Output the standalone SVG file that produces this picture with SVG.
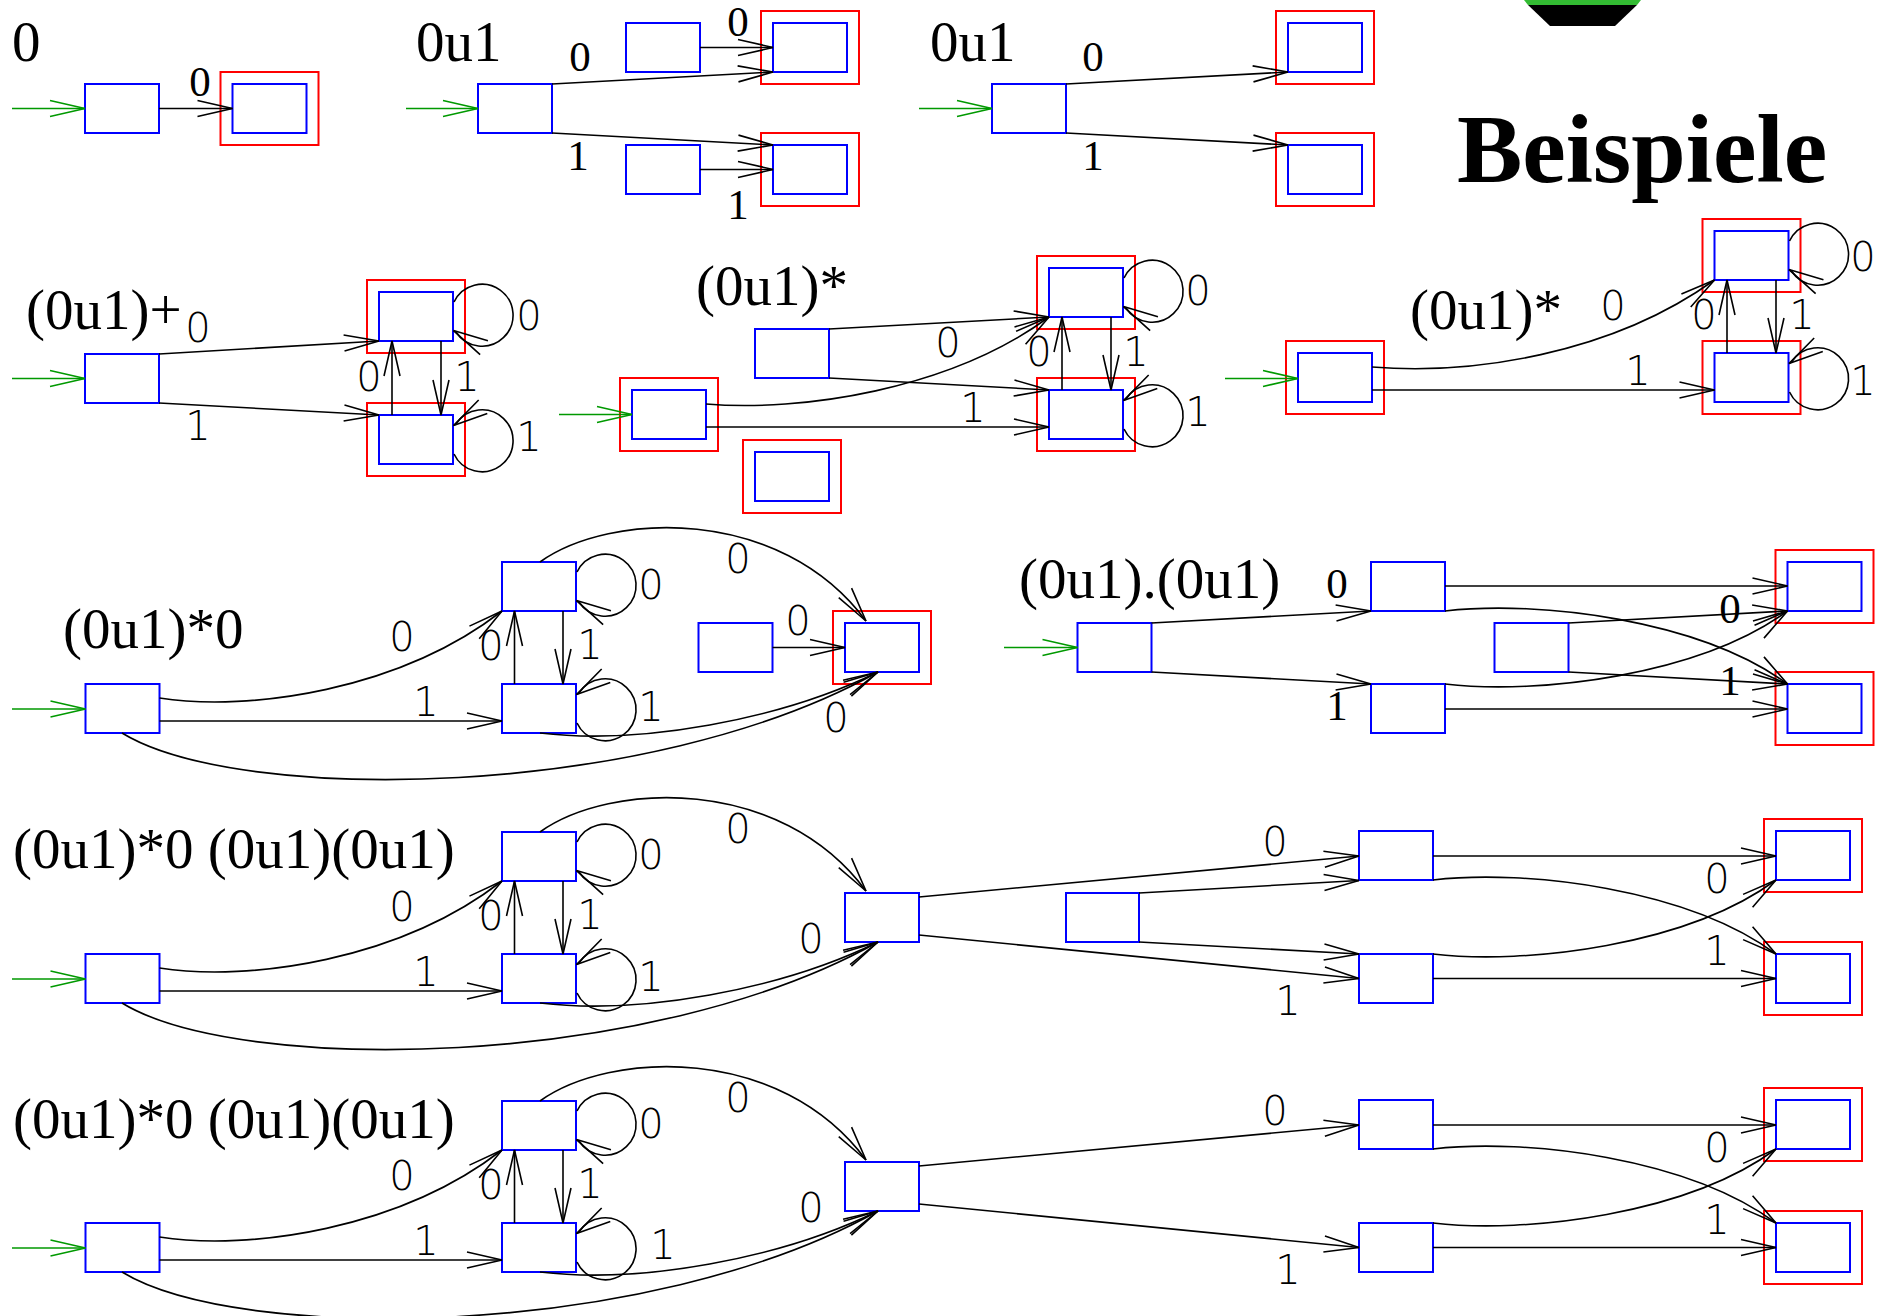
<svg xmlns="http://www.w3.org/2000/svg" width="1881" height="1316" viewBox="0 0 1881 1316">
<defs>
<style>
.b{fill:none;stroke:#0000ff;stroke-width:2}
.r{fill:none;stroke:#ff0000;stroke-width:2}
.e{fill:none;stroke:#000;stroke-width:1.6;marker-end:url(#a)}
.g{fill:none;stroke:#009900;stroke-width:1.6;marker-end:url(#ga)}
.t{font-family:"Liberation Serif","Times New Roman",serif;font-size:57px;fill:#000}
.l{font-family:"DejaVu Sans",sans-serif;font-weight:200;font-size:40px;text-anchor:middle;fill:#000}
.ls{font-family:"Liberation Serif","Times New Roman",serif;font-size:43px;text-anchor:middle;fill:#000}
</style>
<marker id="a" markerUnits="userSpaceOnUse" viewBox="0 0 40 20" markerWidth="40" markerHeight="20" refX="36" refY="10" orient="auto" overflow="visible"><path d="M1,2 L36,10 L1,18" fill="none" stroke="#000" stroke-width="1.6"/></marker>
<marker id="ga" markerUnits="userSpaceOnUse" viewBox="0 0 40 20" markerWidth="40" markerHeight="20" refX="36" refY="10" orient="auto" overflow="visible"><path d="M1,2 L36,10 L1,18" fill="none" stroke="#009900" stroke-width="1.6"/></marker>
</defs>
<rect width="1881" height="1316" fill="#fff"/>

<!-- decoration top -->
<polygon points="1524,0 1641,0 1637,5 1528,5" fill="#33bb33"/>
<polygon points="1528,5 1637,5 1615,26 1550,26" fill="#000"/>
<text x="1457" y="182" font-family="Liberation Serif,Times New Roman,serif" font-weight="bold" font-size="98">Beispiele</text>

<!-- ===== Example 1: 0 ===== -->
<g id="ex1">
<text class="t" x="12" y="61">0</text>
<g id="ex1-s0"><rect class="b" x="85" y="84" width="74" height="49"/></g>
<g id="ex1-f"><rect class="r" x="220.5" y="72" width="98" height="73"/><rect class="b" x="232.5" y="84" width="74" height="49"/></g>
<g id="ex1-edges">
<line class="g" x1="12" y1="108.5" x2="85" y2="108.5"/>
<line class="e" x1="159" y1="108.5" x2="232.5" y2="108.5"/>
<text class="ls" x="200" y="96">0</text>
</g>
</g>

<!-- ===== Example 2: 0u1 ===== -->
<g id="ex2">
<text class="t" x="416" y="61">0u1</text>
<g id="ex2-s0"><rect class="b" x="478" y="84" width="74" height="49"/></g>
<g id="ex2-a"><rect class="b" x="626" y="23" width="74" height="49"/></g>
<g id="ex2-b"><rect class="b" x="626" y="145" width="74" height="49"/></g>
<g id="ex2-f1"><rect class="r" x="761" y="11" width="98" height="73"/><rect class="b" x="773" y="23" width="74" height="49"/></g>
<g id="ex2-f2"><rect class="r" x="761" y="133" width="98" height="73"/><rect class="b" x="773" y="145" width="74" height="49"/></g>
<g id="ex2-edges">
<line class="g" x1="406" y1="108.5" x2="478" y2="108.5"/>
<line class="e" x1="552" y1="84" x2="773" y2="72"/>
<line class="e" x1="552" y1="133" x2="773" y2="145"/>
<line class="e" x1="700" y1="47.5" x2="773" y2="47.5"/>
<line class="e" x1="700" y1="169.5" x2="773" y2="169.5"/>
<text class="ls" x="580" y="71">0</text>
<text class="ls" x="578" y="170">1</text>
<text class="ls" x="738" y="36">0</text>
<text class="ls" x="738" y="219">1</text>
</g>
</g>

<!-- ===== Example 3: 0u1 ===== -->
<g id="ex3">
<text class="t" x="930" y="61">0u1</text>
<g id="ex3-s0"><rect class="b" x="992" y="84" width="74" height="49"/></g>
<g id="ex3-f1"><rect class="r" x="1276" y="11" width="98" height="73"/><rect class="b" x="1288" y="23" width="74" height="49"/></g>
<g id="ex3-f2"><rect class="r" x="1276" y="133" width="98" height="73"/><rect class="b" x="1288" y="145" width="74" height="49"/></g>
<g id="ex3-edges">
<line class="g" x1="919" y1="108.5" x2="992" y2="108.5"/>
<line class="e" x1="1066" y1="84" x2="1288" y2="72"/>
<line class="e" x1="1066" y1="133" x2="1288" y2="145"/>
<text class="ls" x="1093" y="71">0</text>
<text class="ls" x="1093" y="170">1</text>
</g>
</g>

<!-- ===== Example 4: (0u1)+ ===== -->
<g id="ex4">
<text class="t" x="26" y="329">(0u1)+</text>
<g id="ex4-s0"><rect class="b" x="85" y="354" width="74" height="49"/></g>
<g id="ex4-f1"><rect class="r" x="367" y="280" width="98" height="73"/><rect class="b" x="379" y="292" width="74" height="49"/></g>
<g id="ex4-f2"><rect class="r" x="367" y="403" width="98" height="73"/><rect class="b" x="379" y="415" width="74" height="49"/></g>
<g id="ex4-edges">
<line class="g" x1="12" y1="378.5" x2="85" y2="378.5"/>
<line class="e" x1="159" y1="354" x2="379" y2="341"/>
<line class="e" x1="159" y1="403" x2="379" y2="415"/>
<line class="e" x1="392" y1="415" x2="392" y2="341"/>
<line class="e" x1="441" y1="341" x2="441" y2="415"/>
<path class="e" d="M454,302 A31,31 0 1 1 456,332 L453.5,330.6"/>
<path class="e" d="M454,454 A31,31 0 1 0 456,424 L453.5,425.6"/>
<text class="l" x="198" y="342">0</text>
<text class="l" x="198" y="440">1</text>
<text class="l" x="369" y="391">0</text>
<text class="l" x="467" y="391">1</text>
<text class="l" x="529" y="330">0</text>
<text class="l" x="529" y="451">1</text>
</g>
</g>

<!-- ===== Example 5: (0u1)* ===== -->
<g id="ex5">
<text class="t" x="696" y="305">(0u1)*</text>
<g id="ex5-s0"><rect class="r" x="620" y="378" width="98" height="73"/><rect class="b" x="632" y="390" width="74" height="49"/></g>
<g id="ex5-m"><rect class="b" x="755" y="329" width="74" height="49"/></g>
<g id="ex5-iso"><rect class="r" x="743" y="440" width="98" height="73"/><rect class="b" x="755" y="452" width="74" height="49"/></g>
<g id="ex5-f1"><rect class="r" x="1037" y="256" width="98" height="73"/><rect class="b" x="1049" y="268" width="74" height="49"/></g>
<g id="ex5-f2"><rect class="r" x="1037" y="378" width="98" height="73"/><rect class="b" x="1049" y="390" width="74" height="49"/></g>
<g id="ex5-edges">
<line class="g" x1="559" y1="414.5" x2="632" y2="414.5"/>
<line class="e" x1="829" y1="329" x2="1049" y2="317"/>
<line class="e" x1="829" y1="378" x2="1049" y2="390"/>
<path class="e" d="M706,404 C800,412 950,390 1049,317"/>
<line class="e" x1="706" y1="427" x2="1049" y2="427"/>
<line class="e" x1="1062" y1="390" x2="1062" y2="317"/>
<line class="e" x1="1111" y1="317" x2="1111" y2="390"/>
<path class="e" d="M1124,278 A31,31 0 1 1 1126,308 L1123.5,306.6"/>
<path class="e" d="M1124,429 A31,31 0 1 0 1126,399 L1123.5,400.6"/>
<text class="l" x="948" y="357">0</text>
<text class="l" x="973" y="422">1</text>
<text class="l" x="1039" y="366">0</text>
<text class="l" x="1136" y="366">1</text>
<text class="l" x="1198" y="305">0</text>
<text class="l" x="1198" y="426">1</text>
</g>
</g>

<!-- ===== Example 6: (0u1)* ===== -->
<g id="ex6">
<text class="t" x="1410" y="329">(0u1)*</text>
<g id="ex6-s0"><rect class="r" x="1286" y="341" width="98" height="73"/><rect class="b" x="1298" y="353" width="74" height="49"/></g>
<g id="ex6-f1"><rect class="r" x="1702.5" y="219" width="98" height="73"/><rect class="b" x="1714.5" y="231" width="74" height="49"/></g>
<g id="ex6-f2"><rect class="r" x="1702.5" y="341" width="98" height="73"/><rect class="b" x="1714.5" y="353" width="74" height="49"/></g>
<g id="ex6-edges">
<line class="g" x1="1225" y1="378.5" x2="1298" y2="378.5"/>
<path class="e" d="M1372,367 C1470,375 1610,355 1714.5,280"/>
<line class="e" x1="1372" y1="390" x2="1714.5" y2="390"/>
<line class="e" x1="1727" y1="353" x2="1727" y2="280"/>
<line class="e" x1="1776" y1="280" x2="1776" y2="353"/>
<path class="e" d="M1789.5,241 A31,31 0 1 1 1791.5,271 L1789,269.6"/>
<path class="e" d="M1789.5,392 A31,31 0 1 0 1791.5,362 L1789,363.6"/>
<text class="l" x="1613" y="320">0</text>
<text class="l" x="1638" y="385">1</text>
<text class="l" x="1704" y="329">0</text>
<text class="l" x="1802" y="329">1</text>
<text class="l" x="1863" y="271">0</text>
<text class="l" x="1863" y="395">1</text>
</g>
</g>

<!-- ===== Example 7: (0u1)*0 ===== -->
<g id="ex7">
<text class="t" x="63" y="648">(0u1)*0</text>
<g id="ex7-s0"><rect class="b" x="85.5" y="684" width="74" height="49"/></g>
<g id="ex7-u"><rect class="b" x="502" y="562" width="74" height="49"/></g>
<g id="ex7-l"><rect class="b" x="502" y="684" width="74" height="49"/></g>
<g id="ex7-i"><rect class="b" x="698.5" y="623" width="74" height="49"/></g>
<g id="ex7-f"><rect class="r" x="833" y="611" width="98" height="73"/><rect class="b" x="845" y="623" width="74" height="49"/></g>
<g id="ex7-edges">
<line class="g" x1="12" y1="709" x2="85.5" y2="709"/>
<path class="e" d="M159.5,698 C250,712 400,690 502,611"/>
<line class="e" x1="159.5" y1="721" x2="502" y2="721"/>
<path class="e" d="M122,733 C240,805 650,800 878,672"/>
<path class="e" d="M540,733 C640,745 780,720 878,672"/>
<path class="e" d="M540,562 C610,512 780,505 866,621"/>
<line class="e" x1="772.5" y1="647.5" x2="845" y2="647.5"/>
<line class="e" x1="514.5" y1="684" x2="514.5" y2="611"/>
<line class="e" x1="563" y1="611" x2="563" y2="684"/>
<path class="e" d="M577,572 A31,31 0 1 1 579,602 L576.5,600.6"/>
<path class="e" d="M577,723 A31,31 0 1 0 579,693 L576.5,694.6"/>
<text class="l" x="402" y="651">0</text>
<text class="l" x="426" y="716">1</text>
<text class="l" x="836" y="732">0</text>
<text class="l" x="738" y="573">0</text>
<text class="l" x="798" y="635">0</text>
<text class="l" x="491" y="660">0</text>
<text class="l" x="590" y="659">1</text>
<text class="l" x="651" y="599">0</text>
<text class="l" x="651" y="721">1</text>
</g>
</g>

<!-- ===== Example 8: (0u1).(0u1) ===== -->
<g id="ex8">
<text class="t" x="1019" y="598">(0u1).(0u1)</text>
<g id="ex8-s0"><rect class="b" x="1077.5" y="623" width="74" height="49"/></g>
<g id="ex8-m1"><rect class="b" x="1371" y="562" width="74" height="49"/></g>
<g id="ex8-m2"><rect class="b" x="1371" y="684" width="74" height="49"/></g>
<g id="ex8-c"><rect class="b" x="1494.5" y="623" width="74" height="49"/></g>
<g id="ex8-f1"><rect class="r" x="1775.5" y="550" width="98" height="73"/><rect class="b" x="1787.5" y="562" width="74" height="49"/></g>
<g id="ex8-f2"><rect class="r" x="1775.5" y="672" width="98" height="73"/><rect class="b" x="1787.5" y="684" width="74" height="49"/></g>
<g id="ex8-edges">
<line class="g" x1="1004" y1="647.5" x2="1077.5" y2="647.5"/>
<line class="e" x1="1151.5" y1="623" x2="1371" y2="611"/>
<line class="e" x1="1151.5" y1="672" x2="1371" y2="684"/>
<line class="e" x1="1445" y1="586" x2="1787.5" y2="586"/>
<line class="e" x1="1445" y1="709" x2="1787.5" y2="709"/>
<path class="e" d="M1445,611 C1540,600 1700,620 1787.5,684"/>
<path class="e" d="M1445,684 C1540,695 1700,675 1787.5,611"/>
<line class="e" x1="1568.5" y1="623" x2="1787.5" y2="611"/>
<line class="e" x1="1568.5" y1="672" x2="1787.5" y2="684"/>
<text class="ls" x="1337" y="598">0</text>
<text class="ls" x="1337" y="720">1</text>
<text class="ls" x="1730" y="623">0</text>
<text class="ls" x="1730" y="695">1</text>
</g>
</g>

<!-- ===== Example 9: (0u1)*0 (0u1)(0u1) ===== -->
<g id="ex9">
<text class="t" x="13" y="868">(0u1)*0 (0u1)(0u1)</text>
<g id="ex9-s0"><rect class="b" x="85.5" y="954" width="74" height="49"/></g>
<g id="ex9-u"><rect class="b" x="502" y="832" width="74" height="49"/></g>
<g id="ex9-l"><rect class="b" x="502" y="954" width="74" height="49"/></g>
<g id="ex9-d"><rect class="b" x="845" y="893" width="74" height="49"/></g>
<g id="ex9-x"><rect class="b" x="1066" y="893" width="73" height="49"/></g>
<g id="ex9-n1"><rect class="b" x="1359" y="831" width="74" height="49"/></g>
<g id="ex9-n2"><rect class="b" x="1359" y="954" width="74" height="49"/></g>
<g id="ex9-f1"><rect class="r" x="1764" y="819" width="98" height="73"/><rect class="b" x="1776" y="831" width="74" height="49"/></g>
<g id="ex9-f2"><rect class="r" x="1764" y="942" width="98" height="73"/><rect class="b" x="1776" y="954" width="74" height="49"/></g>
<g id="ex9-edges">
<line class="g" x1="12" y1="979" x2="85.5" y2="979"/>
<path class="e" d="M159.5,968 C250,982 400,960 502,881"/>
<line class="e" x1="159.5" y1="991" x2="502" y2="991"/>
<path class="e" d="M122,1003 C240,1075 650,1070 878,942"/>
<path class="e" d="M540,1003 C640,1015 780,990 878,942"/>
<path class="e" d="M540,832 C610,782 780,775 866,891"/>
<line class="e" x1="514.5" y1="954" x2="514.5" y2="881"/>
<line class="e" x1="563" y1="881" x2="563" y2="954"/>
<path class="e" d="M577,842 A31,31 0 1 1 579,872 L576.5,870.6"/>
<path class="e" d="M577,993 A31,31 0 1 0 579,963 L576.5,964.6"/>
<line class="e" x1="919" y1="897" x2="1359" y2="856"/>
<line class="e" x1="919" y1="935" x2="1359" y2="978.5"/>
<line class="e" x1="1139" y1="893" x2="1359" y2="880.5"/>
<line class="e" x1="1139" y1="942" x2="1359" y2="954"/>
<line class="e" x1="1433" y1="856" x2="1776" y2="856"/>
<line class="e" x1="1433" y1="978.5" x2="1776" y2="978.5"/>
<path class="e" d="M1433,880 C1527,869 1688,889 1776,954"/>
<path class="e" d="M1433,954 C1527,965 1688,945 1776,880"/>
<text class="l" x="402" y="921">0</text>
<text class="l" x="426" y="986">1</text>
<text class="l" x="811" y="953">0</text>
<text class="l" x="738" y="843">0</text>
<text class="l" x="491" y="930">0</text>
<text class="l" x="590" y="929">1</text>
<text class="l" x="651" y="869">0</text>
<text class="l" x="651" y="991">1</text>
<text class="l" x="1275" y="856">0</text>
<text class="l" x="1288" y="1015">1</text>
<text class="l" x="1717" y="893">0</text>
<text class="l" x="1717" y="965">1</text>
</g>
</g>

<!-- ===== Example 10: (0u1)*0 (0u1)(0u1) ===== -->
<g id="ex10">
<text class="t" x="13" y="1138">(0u1)*0 (0u1)(0u1)</text>
<g id="ex10-s0"><rect class="b" x="85.5" y="1223" width="74" height="49"/></g>
<g id="ex10-u"><rect class="b" x="502" y="1101" width="74" height="49"/></g>
<g id="ex10-l"><rect class="b" x="502" y="1223" width="74" height="49"/></g>
<g id="ex10-d"><rect class="b" x="845" y="1162" width="74" height="49"/></g>
<g id="ex10-n1"><rect class="b" x="1359" y="1100" width="74" height="49"/></g>
<g id="ex10-n2"><rect class="b" x="1359" y="1223" width="74" height="49"/></g>
<g id="ex10-f1"><rect class="r" x="1764" y="1088" width="98" height="73"/><rect class="b" x="1776" y="1100" width="74" height="49"/></g>
<g id="ex10-f2"><rect class="r" x="1764" y="1211" width="98" height="73"/><rect class="b" x="1776" y="1223" width="74" height="49"/></g>
<g id="ex10-edges">
<line class="g" x1="12" y1="1248" x2="85.5" y2="1248"/>
<path class="e" d="M159.5,1237 C250,1251 400,1229 502,1150"/>
<line class="e" x1="159.5" y1="1260" x2="502" y2="1260"/>
<path class="e" d="M122,1272 C240,1344 650,1339 878,1211"/>
<path class="e" d="M540,1272 C640,1284 780,1259 878,1211"/>
<path class="e" d="M540,1101 C610,1051 780,1044 866,1160"/>
<line class="e" x1="514.5" y1="1223" x2="514.5" y2="1150"/>
<line class="e" x1="563" y1="1150" x2="563" y2="1223"/>
<path class="e" d="M577,1111 A31,31 0 1 1 579,1141 L576.5,1139.6"/>
<path class="e" d="M577,1262 A31,31 0 1 0 579,1232 L576.5,1233.6"/>
<line class="e" x1="919" y1="1166" x2="1359" y2="1125"/>
<line class="e" x1="919" y1="1204" x2="1359" y2="1247.5"/>
<line class="e" x1="1433" y1="1125" x2="1776" y2="1125"/>
<line class="e" x1="1433" y1="1247.5" x2="1776" y2="1247.5"/>
<path class="e" d="M1433,1149 C1527,1138 1688,1158 1776,1223"/>
<path class="e" d="M1433,1223 C1527,1234 1688,1214 1776,1149"/>
<text class="l" x="402" y="1190">0</text>
<text class="l" x="426" y="1255">1</text>
<text class="l" x="811" y="1222">0</text>
<text class="l" x="738" y="1112">0</text>
<text class="l" x="491" y="1199">0</text>
<text class="l" x="590" y="1198">1</text>
<text class="l" x="651" y="1138">0</text>
<text class="l" x="663" y="1259">1</text>
<text class="l" x="1275" y="1125">0</text>
<text class="l" x="1288" y="1284">1</text>
<text class="l" x="1717" y="1162">0</text>
<text class="l" x="1717" y="1234">1</text>
</g>
</g>
</svg>
